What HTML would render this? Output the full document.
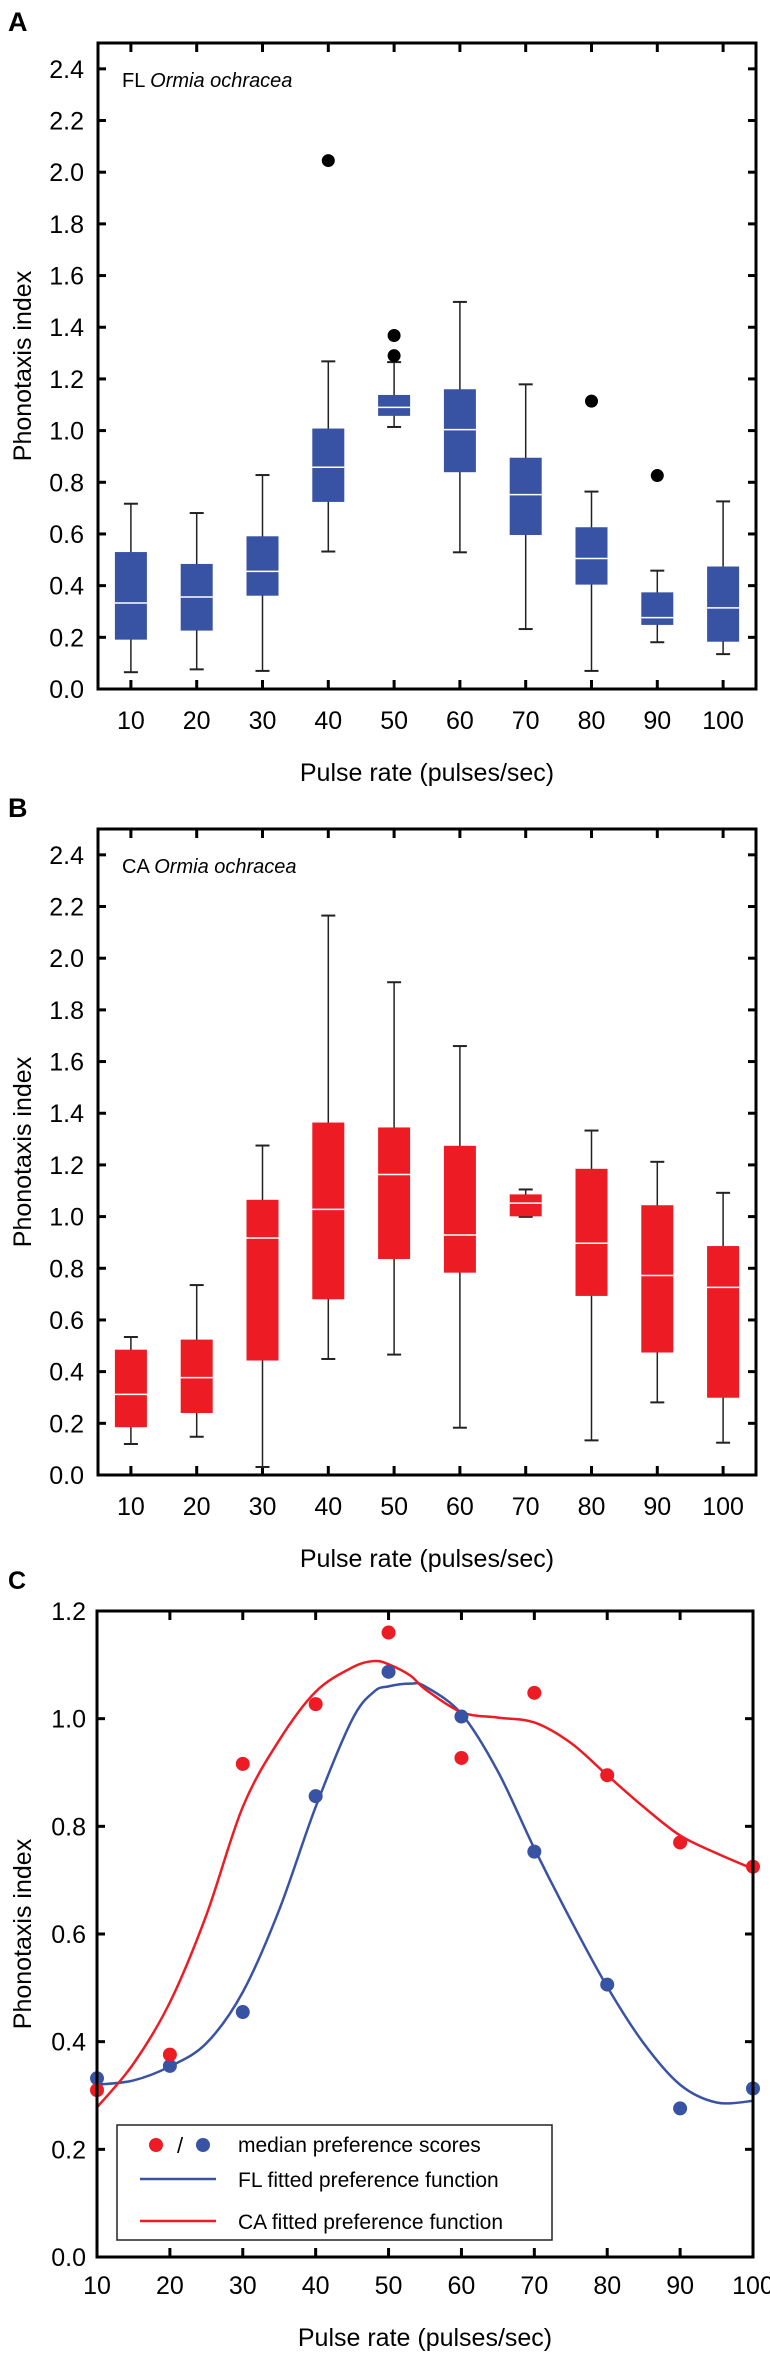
<!DOCTYPE html>
<html><head><meta charset="utf-8"><style>
html,body{margin:0;padding:0;background:#fff;}
svg{display:block;font-family:"Liberation Sans",Arial,sans-serif;}
</style></head><body>
<svg id="fig" width="770" height="2356" viewBox="0 0 770 2356" xmlns="http://www.w3.org/2000/svg"></svg>
<script>
// ---- Panel A data (FL Ormia ochracea) ----
const catsA = [10,20,30,40,50,60,70,80,90,100];
const aWhiskLow = [0.065,0.076,0.070,0.532,1.014,0.529,0.232,0.070,0.181,0.135];
const aQ1 = [0.191,0.226,0.361,0.724,1.057,0.839,0.596,0.404,0.248,0.183];
const aMed = [0.333,0.356,0.455,0.858,1.090,1.004,0.752,0.505,0.276,0.314];
const aQ3 = [0.530,0.484,0.591,1.008,1.138,1.160,0.895,0.626,0.374,0.474];
const aWhiskHigh = [0.717,0.681,0.828,1.268,1.265,1.498,1.179,0.764,0.458,0.726];
const aOutX = [40,50,50,80,90];
const aOutY = [2.045,1.368,1.290,1.114,0.826];
// ---- Panel B data (CA Ormia ochracea) ----
const catsB = [10,20,30,40,50,60,70,80,90,100];
const bWhiskLow = [0.120,0.148,0.031,0.449,0.466,0.183,0.999,0.134,0.281,0.125];
const bQ1 = [0.185,0.240,0.443,0.680,0.836,0.783,1.001,0.693,0.474,0.299];
const bMed = [0.312,0.377,0.917,1.028,1.163,0.929,1.052,0.897,0.772,0.726];
const bQ3 = [0.485,0.524,1.065,1.364,1.345,1.274,1.086,1.185,1.044,0.886];
const bWhiskHigh = [0.534,0.735,1.275,2.165,1.907,1.660,1.105,1.333,1.212,1.092];
// ---- Panel C data ----
const cRates = [10,20,30,40,50,60,70,80,90,100];
const cCA = [0.310,0.376,0.916,1.027,1.160,0.927,1.048,0.895,0.770,0.725];
const cFL = [0.332,0.355,0.455,0.856,1.087,1.004,0.753,0.506,0.276,0.313];
const fitX = [10,15,20,25,30,35,40,45,48,50,53,55,60,65,70,75,80,85,90,95,100];
const fitCA = [0.278,0.359,0.473,0.635,0.836,0.960,1.050,1.095,1.107,1.101,1.080,1.055,1.012,1.002,0.993,0.955,0.895,0.836,0.783,0.750,0.721];
const fitFL = [0.320,0.328,0.354,0.397,0.492,0.645,0.836,0.998,1.050,1.060,1.065,1.060,1.009,0.902,0.759,0.626,0.502,0.397,0.320,0.287,0.290];
const yTicksAB = [0,0.2,0.4,0.6,0.8,1.0,1.2,1.4,1.6,1.8,2.0,2.2,2.4];
const yTicksC = [0,0.2,0.4,0.6,0.8,1.0,1.2];
const xTicks = [10,20,30,40,50,60,70,80,90,100];

const NS = "http://www.w3.org/2000/svg";
const svg = document.getElementById('fig');
function mk(tag, attrs, parent){ const e=document.createElementNS(NS,tag); for(const k in attrs) e.setAttribute(k,attrs[k]); (parent||svg).appendChild(e); return e; }
function txt(s, attrs, parent){ const e=mk('text',attrs,parent); e.textContent=s; return e; }

const BLUE="#3953a4", RED="#ed1c24";

function drawBoxPanel(cfg){
  const g = mk('g',{});
  
  
  const L=98,R=756,T=cfg.top,B=cfg.top+646;
  const xs = v => L + (v-5)/100*(R-L);
  const ys = v => B - v/2.5*(B-T);
  // panel letter
  const pl = txt(cfg.letter,{x:8,y:T-12,'font-size':27,'font-weight':'bold',fill:'#000'},g);
  
  
  // ticks
  yTicksAB.forEach(v=>{
    mk('line',{x1:L,x2:L+8,y1:ys(v),y2:ys(v),stroke:'#000','stroke-width':3},g);
    mk('line',{x1:R-8,x2:R,y1:ys(v),y2:ys(v),stroke:'#000','stroke-width':3},g);
    const t = txt(v.toFixed(1),{x:84,y:ys(v)+9,'font-size':25,'text-anchor':'end',fill:'#000'},g);
    
    
  });
  xTicks.forEach(v=>{
    mk('line',{x1:xs(v),x2:xs(v),y1:B,y2:B-9,stroke:'#000','stroke-width':3},g);
    mk('line',{x1:xs(v),x2:xs(v),y1:T,y2:T+9,stroke:'#000','stroke-width':3},g);
    const t = txt(String(v),{x:xs(v),y:B+40,'font-size':25,'text-anchor':'middle',fill:'#000'},g);
    
    
  });
  // boxes
  cfg.cats.forEach((c,i)=>{
    const x = xs(c), bw=32, cw=14;
    const bx = mk('g',{},g);
    
    
    mk('line',{x1:x,x2:x,y1:ys(cfg.wl[i]),y2:ys(cfg.wh[i]),stroke:'#222','stroke-width':1.5},bx);
    mk('line',{x1:x-cw/2,x2:x+cw/2,y1:ys(cfg.wl[i]),y2:ys(cfg.wl[i]),stroke:'#222','stroke-width':2},bx);
    mk('line',{x1:x-cw/2,x2:x+cw/2,y1:ys(cfg.wh[i]),y2:ys(cfg.wh[i]),stroke:'#222','stroke-width':2},bx);
    mk('rect',{x:x-bw/2,y:ys(cfg.q3[i]),width:bw,height:Math.max(2,ys(cfg.q1[i])-ys(cfg.q3[i])),fill:cfg.color},bx);
    mk('line',{x1:x-bw/2,x2:x+bw/2,y1:ys(cfg.med[i]),y2:ys(cfg.med[i]),stroke:'#fff','stroke-width':1.5},bx);
  });
  if(cfg.outX){
    cfg.outX.forEach((c,i)=>{
      const o = mk('circle',{cx:xs(c),cy:ys(cfg.outY[i]),r:6.5,fill:'#000'},g);
      
      
    });
  }
  mk('rect',{x:L,y:T,width:R-L,height:B-T,fill:'none',stroke:'#000','stroke-width':3},g);
  // annotation
  const an = txt('',{x:122,y:T+44,'font-size':20,fill:'#000'},g);
  
  
  const s1=mk('tspan',{},an); s1.textContent=cfg.pop+' ';
  const s2=mk('tspan',{'font-style':'italic'},an); s2.textContent='Ormia ochracea';
  // axis titles
  const xt = txt('Pulse rate (pulses/sec)',{x:(L+R)/2,y:B+92,'font-size':25,'text-anchor':'middle',fill:'#000'},g);
  
  
  const yt = txt('Phonotaxis index',{x:0,y:0,'font-size':25,'text-anchor':'middle',fill:'#000',transform:`translate(31,${(T+B)/2}) rotate(-90)`},g);
  
  
}

drawBoxPanel({name:'panel-a-fl-boxplot',letter:'A',pop:'FL',top:43,cats:catsA,wl:aWhiskLow,q1:aQ1,med:aMed,q3:aQ3,wh:aWhiskHigh,outX:aOutX,outY:aOutY,color:BLUE});
drawBoxPanel({name:'panel-b-ca-boxplot',letter:'B',pop:'CA',top:829,cats:catsB,wl:bWhiskLow,q1:bQ1,med:bMed,q3:bQ3,wh:bWhiskHigh,color:RED});

// ---- Panel C ----
(function(){
  const g = mk('g',{});
  
  
  const L=97,R=753,T=1611,B=2257;
  const xs = v => L + (v-10)/90*(R-L);
  const ys = v => B - v/1.2*(B-T);
  const pl = txt('C',{x:8,y:1589,'font-size':25,'font-weight':'bold',fill:'#000'},g);
  
  
  yTicksC.forEach(v=>{
    mk('line',{x1:L,x2:L+8,y1:ys(v),y2:ys(v),stroke:'#000','stroke-width':3},g);
    mk('line',{x1:R-8,x2:R,y1:ys(v),y2:ys(v),stroke:'#000','stroke-width':3},g);
    const t = txt(v.toFixed(1),{x:86,y:ys(v)+9,'font-size':25,'text-anchor':'end',fill:'#000'},g);
    
    
  });
  xTicks.forEach(v=>{
    mk('line',{x1:xs(v),x2:xs(v),y1:B,y2:B-9,stroke:'#000','stroke-width':3},g);
    mk('line',{x1:xs(v),x2:xs(v),y1:T,y2:T+9,stroke:'#000','stroke-width':3},g);
    const t = txt(String(v),{x:xs(v),y:B+37,'font-size':25,'text-anchor':'middle',fill:'#000'},g);
    
    
  });
  function smooth(xa,ya){
    const p = xa.map((x,i)=>[xs(x),ys(ya[i])]);
    let d='M'+p[0][0]+','+p[0][1];
    for(let i=0;i<p.length-1;i++){
      const p0=p[Math.max(0,i-1)],p1=p[i],p2=p[i+1],p3=p[Math.min(p.length-1,i+2)];
      const c1=[p1[0]+(p2[0]-p0[0])/6,p1[1]+(p2[1]-p0[1])/6];
      const c2=[p2[0]-(p3[0]-p1[0])/6,p2[1]-(p3[1]-p1[1])/6];
      d+=` C${c1[0]},${c1[1]} ${c2[0]},${c2[1]} ${p2[0]},${p2[1]}`;
    }
    return d;
  }
  const fl = mk('path',{d:smooth(fitX,fitFL),fill:'none',stroke:BLUE,'stroke-width':2.5},g);
  
  
  const ca = mk('path',{d:smooth(fitX,fitCA),fill:'none',stroke:RED,'stroke-width':2.5},g);
  
  
  cRates.forEach((c,i)=>{
    const p = mk('circle',{cx:xs(c),cy:ys(cFL[i]),r:7,fill:BLUE},g);
    
    
  });
  cRates.forEach((c,i)=>{
    const p = mk('circle',{cx:xs(c),cy:ys(cCA[i]),r:7,fill:RED},g);
    
    
  });
  // legend
  const lg = mk('g',{},g);
  
  
  mk('rect',{x:117,y:2125,width:435,height:115,fill:'#fff',stroke:'#222','stroke-width':1.5},lg);
  mk('circle',{cx:156,cy:2145,r:7,fill:RED},lg);
  txt('/',{x:180,y:2153,'font-size':22,'text-anchor':'middle',fill:'#000'},lg);
  mk('circle',{cx:203,cy:2145,r:7,fill:BLUE},lg);
  const e1=txt('median preference scores',{x:238,y:2152,'font-size':21,fill:'#000'},lg);
  
  
  mk('line',{x1:140,x2:216,y1:2179,y2:2179,stroke:BLUE,'stroke-width':2.5},lg);
  const e2=txt('FL fitted preference function',{x:238,y:2187,'font-size':21,fill:'#000'},lg);
  
  
  mk('line',{x1:140,x2:216,y1:2221,y2:2221,stroke:RED,'stroke-width':2.5},lg);
  const e3=txt('CA fitted preference function',{x:238,y:2229,'font-size':21,fill:'#000'},lg);
  
  
  mk('rect',{x:L,y:T,width:R-L,height:B-T,fill:'none',stroke:'#000','stroke-width':3},g);
  const xt = txt('Pulse rate (pulses/sec)',{x:(L+R)/2,y:2346,'font-size':25,'text-anchor':'middle',fill:'#000'},g);
  
  
  const yt = txt('Phonotaxis index',{x:0,y:0,'font-size':25,'text-anchor':'middle',fill:'#000',transform:`translate(31,${(T+B)/2}) rotate(-90)`},g);
  
  
})();
</script>
</body></html>
